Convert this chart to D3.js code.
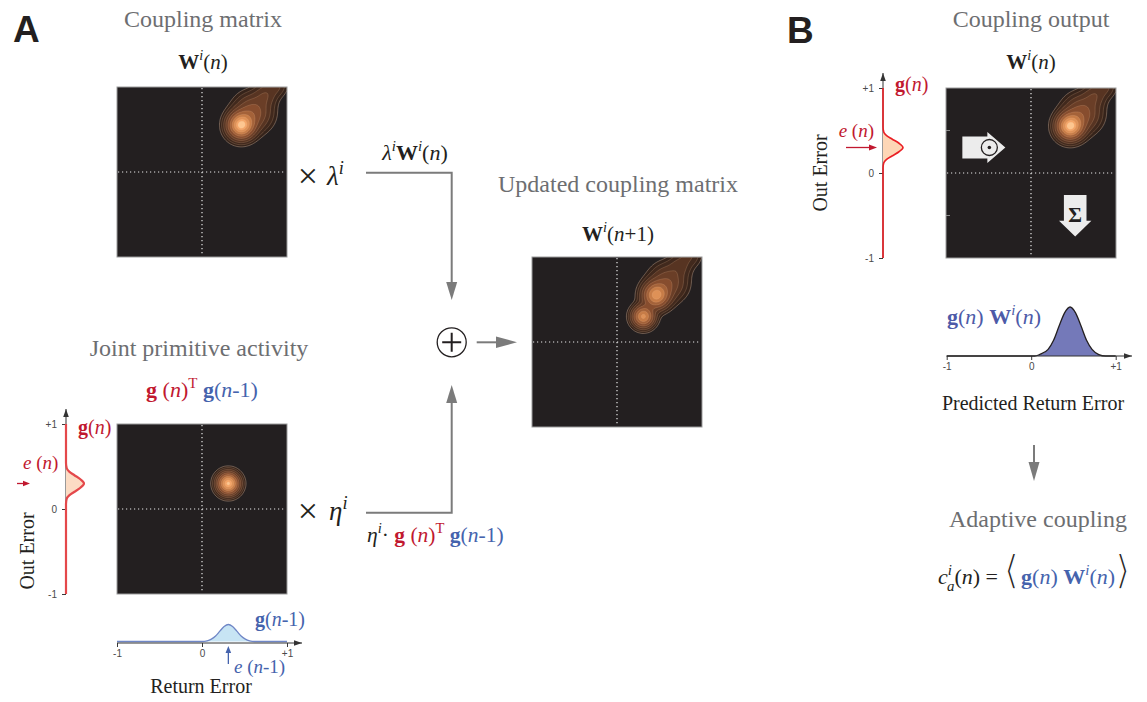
<!DOCTYPE html>
<html>
<head>
<meta charset="utf-8">
<script src="https://cdn.jsdelivr.net/npm/d3@7"></script>
<style>
  body { margin: 0; background: #fff; }
  svg { display: block; }
</style>
</head>
<body>
<svg id="fig" width="1147" height="702"></svg>
<script>
// ---------------- values ----------------
const errorTicks = [-1, 0, 1];
const errorTickLabels = ["-1", "0", "+1"];

// Gaussian bumps of each matrix: [return error, out error, spread, height]
const couplingBumps = [
  [0.46, 0.55, 0.088, 1.00],
  [0.60, 0.70, 0.120, 0.28],
  [0.74, 0.90, 0.080, 0.10],
  [0.86, 1.02, 0.080, 0.09]
];
const jointBumps = [
  [0.31, 0.30, 0.072, 1.00]
];
const decayRate = 0.75;   // lambda^i
const learnRate = 0.72;   // eta^i

const contourLevels = [0.016, 0.035, 0.07, 0.13, 0.22, 0.35, 0.51, 0.68, 0.85, 0.96];

// primitive activity profiles: [error value, relative activity]
const outErrorActivity = [
  [-1, 0], [0.06, 0], [0.12, 0.04], [0.16, 0.18], [0.20, 0.45], [0.25, 0.80], [0.30, 1],
  [0.35, 0.80], [0.40, 0.45], [0.44, 0.18], [0.48, 0.04], [0.54, 0], [1, 0]
];
const returnErrorActivity = [
  [-1, 0], [0.00, 0], [0.06, 0.04], [0.11, 0.14], [0.16, 0.32], [0.21, 0.61], [0.26, 0.88],
  [0.31, 1], [0.36, 0.88], [0.41, 0.61], [0.46, 0.32], [0.51, 0.14], [0.56, 0.04], [0.62, 0], [1, 0]
];
const predictedActivity = [
  [-1, 0], [0.04, 0], [0.10, 0.03], [0.20, 0.135], [0.265, 0.32], [0.33, 0.61], [0.395, 0.88],
  [0.46, 1], [0.525, 0.88], [0.59, 0.61], [0.655, 0.32], [0.72, 0.135], [0.80, 0.03], [0.88, 0], [1, 0]
];
const currentOutError = 0.30;
const previousReturnError = 0.31;

// ---------------- styling ----------------
const SERIF = "'Liberation Serif', 'Times New Roman', serif";
const SANS = "'Liberation Sans', Arial, sans-serif";
const INK = "#231f20";
const GREY_TITLE = "#6d6e71";
const RED = "#c1182f";
const BLUE = "#4563ad";
const ARROW = "#7b7b7b";
const MAT = 170;

const svg = d3.select("#fig");
const defs = svg.append("defs");

// ---------------- helpers ----------------
function rich(parent, x, y, parts, o = {}) {
  const size = o.size || 20;
  const t = parent.append("text")
    .attr("x", x).attr("y", y)
    .attr("text-anchor", o.anchor || "middle")
    .attr("font-family", o.font || SERIF)
    .attr("font-size", size)
    .attr("fill", o.color || INK);
  if (o.transform) t.attr("transform", o.transform);
  let shift = 0;
  parts.forEach(p => {
    const s = t.append("tspan").text(p.t);
    const target = p.sup ? -0.42 * size : p.sub ? 0.30 * size : 0;
    const dy = target - shift;
    shift = target;
    if (dy) s.attr("dy", dy);
    if (p.dx) s.attr("dx", p.dx);
    if (p.b) s.attr("font-weight", "bold");
    if (p.i) s.attr("font-style", "italic");
    if (p.c) s.attr("fill", p.c);
    if (p.sup || p.sub) s.attr("font-size", size * 0.68);
    if (p.fs) s.attr("font-size", p.fs);
    if (p.ff) s.attr("font-family", p.ff);
    if (p.thin) s.attr("stroke", "#fff").attr("stroke-width", p.thin);
  });
  return t;
}

function head(g, tx, ty, dir, len, half, color) {
  const [ux, uy] = dir;
  const bx = tx - ux * len, by = ty - uy * len;
  const px = -uy, py = ux;
  g.append("path")
    .attr("d", `M${tx},${ty}L${bx + px * half},${by + py * half}L${bx - px * half},${by - py * half}Z`)
    .attr("fill", color);
}

function gridField(bumps, n) {
  const vals = new Float64Array(n * n);
  for (let j = 0; j < n; j++) {
    const y = -1 + 2 * (j + 0.5) / n;
    for (let i = 0; i < n; i++) {
      const x = -1 + 2 * (i + 0.5) / n;
      let v = 0;
      bumps.forEach(([cx, cy, s, h]) => {
        v += h * Math.exp(-((x - cx) ** 2 + (y - cy) ** 2) / (2 * s * s));
      });
      vals[i + j * n] = v;
    }
  }
  return vals;
}

const GRID = 140;
const couplingField = gridField(couplingBumps, GRID);
const jointField = gridField(jointBumps, GRID);
const updatedField = couplingField.map((v, k) => decayRate * v + learnRate * jointField[k]);

const heat = d3.scaleLinear()
  .domain([0.016, 0.07, 0.22, 0.51, 0.85, 0.96])
  .range(["#35231a", "#573422", "#874d2e", "#c77c47", "#f5a567", "#fdc690"])
  .clamp(true);

let clipId = 0;
function matrix(x0, y0, field, opts = {}) {
  const g = svg.append("g");
  const xs = d3.scaleLinear().domain([-1, 1]).range([x0, x0 + MAT]);
  const ys = d3.scaleLinear().domain([-1, 1]).range([y0 + MAT, y0]);
  const id = "clip" + (clipId++);
  defs.append("clipPath").attr("id", id)
    .append("rect").attr("x", x0).attr("y", y0).attr("width", MAT).attr("height", MAT);

  g.append("rect").attr("x", x0).attr("y", y0).attr("width", MAT).attr("height", MAT)
    .attr("fill", "#231f20");

  const contours = d3.contours().size([GRID, GRID]).thresholds(contourLevels)(field);
  const proj = d3.geoTransform({
    point(px, py) { this.stream.point(xs(-1 + 2 * px / GRID), ys(-1 + 2 * py / GRID)); }
  });
  const path = d3.geoPath(proj);
  g.append("g").attr("clip-path", `url(#${id})`)
    .selectAll("path").data(contours).join("path")
    .attr("d", path)
    .attr("fill", d => heat(d.value))
    .attr("stroke", (d, i) => i === 0 ? "rgba(190,160,140,0.8)" : "rgba(235,190,150,0.35)")
    .attr("stroke-width", 0.6);

  // dotted zero lines
  g.append("line").attr("x1", xs(0)).attr("x2", xs(0)).attr("y1", y0 + 1).attr("y2", y0 + MAT - 1)
    .attr("stroke", "#e8e8e8").attr("stroke-width", 1.2).attr("stroke-dasharray", "1.2,2.8");
  g.append("line").attr("y1", ys(0)).attr("y2", ys(0)).attr("x1", x0 + 1).attr("x2", x0 + MAT - 1)
    .attr("stroke", "#e8e8e8").attr("stroke-width", 1.2).attr("stroke-dasharray", "1.2,2.8");

  if (opts.sideTicks) {
    [-0.5, 0.5].forEach(v => g.append("line")
      .attr("x1", x0).attr("x2", x0 + 4).attr("y1", ys(v)).attr("y2", ys(v))
      .attr("stroke", "#8a8a8a").attr("stroke-width", 1));
  }

  g.append("rect").attr("x", x0).attr("y", y0).attr("width", MAT).attr("height", MAT)
    .attr("fill", "none").attr("stroke", "#9b9b9b").attr("stroke-width", 1);
  return { g, xs, ys };
}

function styleAxis(sel) {
  sel.select(".domain").remove();
  sel.selectAll(".tick line").attr("stroke", "#3a3a3a");
  sel.selectAll(".tick text").attr("fill", "#4a4a4a").attr("font-family", SANS).attr("font-size", 10);
}

function verticalProfile(ys, axisX, amp, data, fill, stroke, width) {
  const g = svg.append("g");
  g.append("line").attr("x1", axisX).attr("x2", axisX)
    .attr("y1", ys(-1)).attr("y2", ys(1) - 15).attr("stroke", "#333").attr("stroke-width", 1);
  head(g, axisX, ys(1) - 15, [0, -1], 8, 2.8, "#333");
  const ax = d3.axisLeft(ys).tickValues(errorTicks)
    .tickFormat((d, i) => errorTickLabels[i]).tickSize(4).tickPadding(5).tickSizeOuter(0);
  g.append("g").attr("transform", `translate(${axisX},0)`).call(ax).call(styleAxis);
  const a = d3.scaleLinear().domain([0, 1]).range([0, amp]);
  const pts = data.slice().sort((p, q) => ys(p[0]) - ys(q[0]));
  g.append("path").datum(pts)
    .attr("d", d3.area().y(d => ys(d[0])).x0(axisX).x1(d => axisX + a(d[1])).curve(d3.curveMonotoneY))
    .attr("fill", fill);
  g.append("path").datum(pts)
    .attr("d", d3.line().y(d => ys(d[0])).x(d => axisX + a(d[1])).curve(d3.curveMonotoneY))
    .attr("fill", "none").attr("stroke", stroke).attr("stroke-width", width);
  return g;
}

function horizontalProfile(xs, axisY, lift, amp, data, fill, stroke, width, axisEnd) {
  const g = svg.append("g");
  const ax = d3.axisBottom(xs).tickValues(errorTicks)
    .tickFormat((d, i) => errorTickLabels[i]).tickSize(4).tickPadding(3).tickSizeOuter(0);
  g.append("g").attr("transform", `translate(0,${axisY})`).call(ax).call(styleAxis);
  const a = d3.scaleLinear().domain([0, 1]).range([0, amp]);
  const base = axisY - lift;
  g.append("path").datum(data)
    .attr("d", d3.area().x(d => xs(d[0])).y0(base).y1(d => base - a(d[1])).curve(d3.curveMonotoneX))
    .attr("fill", fill);
  g.append("path").datum(data)
    .attr("d", d3.line().x(d => xs(d[0])).y(d => base - a(d[1])).curve(d3.curveMonotoneX))
    .attr("fill", "none").attr("stroke", stroke).attr("stroke-width", width);
  g.append("line").attr("x1", xs(-1)).attr("x2", axisEnd).attr("y1", axisY).attr("y2", axisY)
    .attr("stroke", "#333").attr("stroke-width", 1);
  head(g, axisEnd, axisY, [1, 0], 8, 2.8, "#333");
  return g;
}

// ---------------- panel letters ----------------
svg.append("text").attr("x", 13).attr("y", 42).text("A")
  .attr("font-family", SANS).attr("font-weight", "bold").attr("font-size", 37).attr("fill", INK);
svg.append("text").attr("x", 787).attr("y", 43).text("B")
  .attr("font-family", SANS).attr("font-weight", "bold").attr("font-size", 37).attr("fill", INK);

// ---------------- A: coupling matrix ----------------
rich(svg, 203, 27, [{ t: "Coupling matrix" }], { size: 24, color: GREY_TITLE });
rich(svg, 203, 69, [{ t: "W", b: 1 }, { t: "i", i: 1, sup: 1 }, { t: "(" }, { t: "n", i: 1 }, { t: ")" }], { size: 21 });
matrix(117, 87, couplingField);

rich(svg, 308, 188, [{ t: "×" }], { size: 36 });
rich(svg, 327, 185, [{ t: "λ", i: 1 }, { t: "i", i: 1, sup: 1 }], { size: 27, anchor: "start" });
rich(svg, 415, 160, [{ t: "λ", i: 1 }, { t: "i", i: 1, sup: 1 }, { t: "W", b: 1 }, { t: "i", i: 1, sup: 1 },
  { t: "(" }, { t: "n", i: 1 }, { t: ")" }], { size: 22 });

// ---------------- A: joint primitive activity ----------------
rich(svg, 199, 356, [{ t: "Joint primitive activity" }], { size: 24, color: GREY_TITLE });
rich(svg, 202, 397, [
  { t: "g", b: 1, c: RED }, { t: " (", c: RED }, { t: "n", i: 1, c: RED }, { t: ")", c: RED },
  { t: "T", sup: 1, c: RED }, { t: " g", b: 1, c: BLUE }, { t: "(", c: BLUE }, { t: "n", i: 1, c: BLUE }, { t: "-1)", c: BLUE }
], { size: 22 });
const m2 = matrix(117, 424, jointField);

rich(svg, 308, 523, [{ t: "×" }], { size: 36 });
rich(svg, 329, 520, [{ t: "η", i: 1 }, { t: "i", i: 1, sup: 1 }], { size: 27, anchor: "start" });
rich(svg, 367, 542, [
  { t: "η", i: 1 }, { t: "i", i: 1, sup: 1 }, { t: "· " },
  { t: "g", b: 1, c: RED }, { t: " (", c: RED }, { t: "n", i: 1, c: RED }, { t: ")", c: RED },
  { t: "T", sup: 1, c: RED }, { t: " g", b: 1, c: BLUE }, { t: "(", c: BLUE }, { t: "n", i: 1, c: BLUE }, { t: "-1)", c: BLUE }
], { size: 21.5, anchor: "start" });

// out error marginal g(n)
verticalProfile(m2.ys, 66, 18, outErrorActivity, "#fcdcc4", "#e4484b", 2.2);
rich(svg, 78, 434, [{ t: "g", b: 1 }, { t: "(" }, { t: "n", i: 1 }, { t: ")" }], { size: 20, anchor: "start", color: RED });
rich(svg, 23, 469, [{ t: "e", i: 1 }, { t: " (" }, { t: "n", i: 1 }, { t: ")" }], { size: 19, anchor: "start", color: RED });
{
  const y = m2.ys(currentOutError);
  svg.append("line").attr("x1", 17).attr("x2", 24).attr("y1", y).attr("y2", y).attr("stroke", RED).attr("stroke-width", 1.3);
  head(svg, 30, y, [1, 0], 7, 2.8, RED);
}
rich(svg, 34, 551, [{ t: "Out Error" }], { size: 20, transform: "rotate(-90,34,551)" });

// return error marginal g(n-1)
horizontalProfile(m2.xs, 643, 1.5, 17, returnErrorActivity, "#c7e4f4", "#6f86c6", 1.3, 302);
rich(svg, 255, 626, [{ t: "g", b: 1 }, { t: "(" }, { t: "n", i: 1 }, { t: "-1)" }], { size: 20, anchor: "start", color: BLUE });
{
  const x = m2.xs(previousReturnError);
  svg.append("line").attr("x1", x).attr("x2", x).attr("y1", 664).attr("y2", 652).attr("stroke", BLUE).attr("stroke-width", 1.3);
  head(svg, x, 646, [0, -1], 7, 2.8, BLUE);
}
rich(svg, 234, 673, [{ t: "e", i: 1 }, { t: " (" }, { t: "n", i: 1 }, { t: "-1)" }], { size: 19, anchor: "start", color: BLUE });
rich(svg, 201, 693, [{ t: "Return Error" }], { size: 20 });

// ---------------- A: update arrows ----------------
const flow = svg.append("g");
flow.append("path").attr("d", "M366,172.7H451.7V284").attr("fill", "none").attr("stroke", ARROW).attr("stroke-width", 2);
head(flow, 451.7, 300, [0, 1], 18, 5.5, ARROW);
flow.append("path").attr("d", "M366,512.7H451.7V400").attr("fill", "none").attr("stroke", ARROW).attr("stroke-width", 2);
head(flow, 451.7, 385, [0, -1], 18, 5.5, ARROW);
flow.append("line").attr("x1", 476.7).attr("x2", 500).attr("y1", 342.3).attr("y2", 342.3).attr("stroke", ARROW).attr("stroke-width", 2);
head(flow, 517, 342.3, [1, 0], 21, 5.8, ARROW);
flow.append("circle").attr("cx", 451.7).attr("cy", 342.3).attr("r", 14.5).attr("fill", "#fff").attr("stroke", INK).attr("stroke-width", 1.3);
flow.append("path").attr("d", "M442.2,342.3H461.2M451.7,332.8V351.8").attr("stroke", INK).attr("stroke-width", 2);

// ---------------- A: updated coupling matrix ----------------
rich(svg, 618, 192, [{ t: "Updated coupling matrix" }], { size: 24, color: GREY_TITLE });
rich(svg, 618, 241, [{ t: "W", b: 1 }, { t: "i", i: 1, sup: 1 }, { t: "(" }, { t: "n", i: 1 }, { t: "+1)" }], { size: 21 });
matrix(532, 257, updatedField);

// ---------------- B: coupling output ----------------
rich(svg, 1031, 27, [{ t: "Coupling output" }], { size: 24, color: GREY_TITLE });
rich(svg, 1031, 69, [{ t: "W", b: 1 }, { t: "i", i: 1, sup: 1 }, { t: "(" }, { t: "n", i: 1 }, { t: ")" }], { size: 21 });
const mB = matrix(946, 88, couplingField, { sideTicks: true });

// element-wise product marker on the g(n) row
{
  const cx = mB.xs(-0.49), cy = mB.ys(currentOutError);
  mB.g.append("path")
    .attr("d", `M${cx - 27},${cy - 11}H${cx - 2}V${cy - 15.5}L${cx + 16},${cy}L${cx - 2},${cy + 15.5}V${cy + 11}H${cx - 27}Z`)
    .attr("fill", "#ececec");
  mB.g.append("circle").attr("cx", cx).attr("cy", cy).attr("r", 8).attr("fill", "none").attr("stroke", INK).attr("stroke-width", 1.3);
  mB.g.append("circle").attr("cx", cx).attr("cy", cy).attr("r", 1.8).attr("fill", INK);
}
// summation marker down the columns
{
  const cx = mB.xs(0.52), top = mB.ys(-0.26);
  mB.g.append("path")
    .attr("d", `M${cx - 11.3},${top}H${cx + 11.3}V${top + 25.7}H${cx + 16.2}L${cx},${top + 41.3}L${cx - 16.2},${top + 25.7}H${cx - 11.3}Z`)
    .attr("fill", "#ececec");
  rich(mB.g, cx, top + 27, [{ t: "Σ", b: 1 }], { size: 21 });
}

// out error marginal g(n)
verticalProfile(mB.ys, 883, 20, outErrorActivity, "#fdd6b6", "#ea1f25", 1.6);
rich(svg, 895, 91, [{ t: "g", b: 1 }, { t: "(" }, { t: "n", i: 1 }, { t: ")" }], { size: 20, anchor: "start", color: RED });
rich(svg, 874, 137, [{ t: "e", i: 1 }, { t: " (" }, { t: "n", i: 1 }, { t: ")" }], { size: 19, anchor: "end", color: RED });
{
  const y = mB.ys(currentOutError);
  svg.append("line").attr("x1", 846).attr("x2", 870).attr("y1", y).attr("y2", y).attr("stroke", RED).attr("stroke-width", 1.3);
  head(svg, 877, y, [1, 0], 8, 3, RED);
}
rich(svg, 827, 173, [{ t: "Out Error" }], { size: 20, transform: "rotate(-90,827,173)" });

// predicted return error profile
const xsPred = d3.scaleLinear().domain([-1, 1]).range([946.7, 1115.7]);
horizontalProfile(xsPred, 356, 0, 49, predictedActivity, "#7479b9", INK, 1.3, 1132);
rich(svg, 947, 324, [
  { t: "g", b: 1 }, { t: "(" }, { t: "n", i: 1 }, { t: ") " },
  { t: "W", b: 1 }, { t: "i", i: 1, sup: 1 }, { t: "(" }, { t: "n", i: 1 }, { t: ")" }
], { size: 22, anchor: "start", color: "#4d5aa8" });
rich(svg, 1033, 410, [{ t: "Predicted Return Error" }], { size: 20 });

// to adaptive coupling
svg.append("line").attr("x1", 1034).attr("x2", 1034).attr("y1", 445).attr("y2", 464).attr("stroke", ARROW).attr("stroke-width", 2);
head(svg, 1034, 481, [0, 1], 19, 5.5, ARROW);
rich(svg, 1038, 527, [{ t: "Adaptive coupling" }], { size: 24, color: GREY_TITLE });
rich(svg, 938, 584, [
  { t: "c", i: 1 }, { t: "i", i: 1, sup: 1 }, { t: "a", i: 1, sub: 1, dx: -5 },
  { t: "(" }, { t: "n", i: 1 }, { t: ") = " },
  { t: "⟨", fs: 40, ff: "'DejaVu Sans', sans-serif", thin: 1.4 },
  { t: "g", b: 1, c: BLUE, dx: 2 }, { t: "(", c: BLUE }, { t: "n", i: 1, c: BLUE }, { t: ") ", c: BLUE },
  { t: "W", b: 1, c: BLUE }, { t: "i", i: 1, sup: 1, c: BLUE }, { t: "(", c: BLUE }, { t: "n", i: 1, c: BLUE }, { t: ")", c: BLUE },
  { t: "⟩", fs: 40, ff: "'DejaVu Sans', sans-serif", thin: 1.4 }
], { size: 22, anchor: "start" });
</script>
</body>
</html>
